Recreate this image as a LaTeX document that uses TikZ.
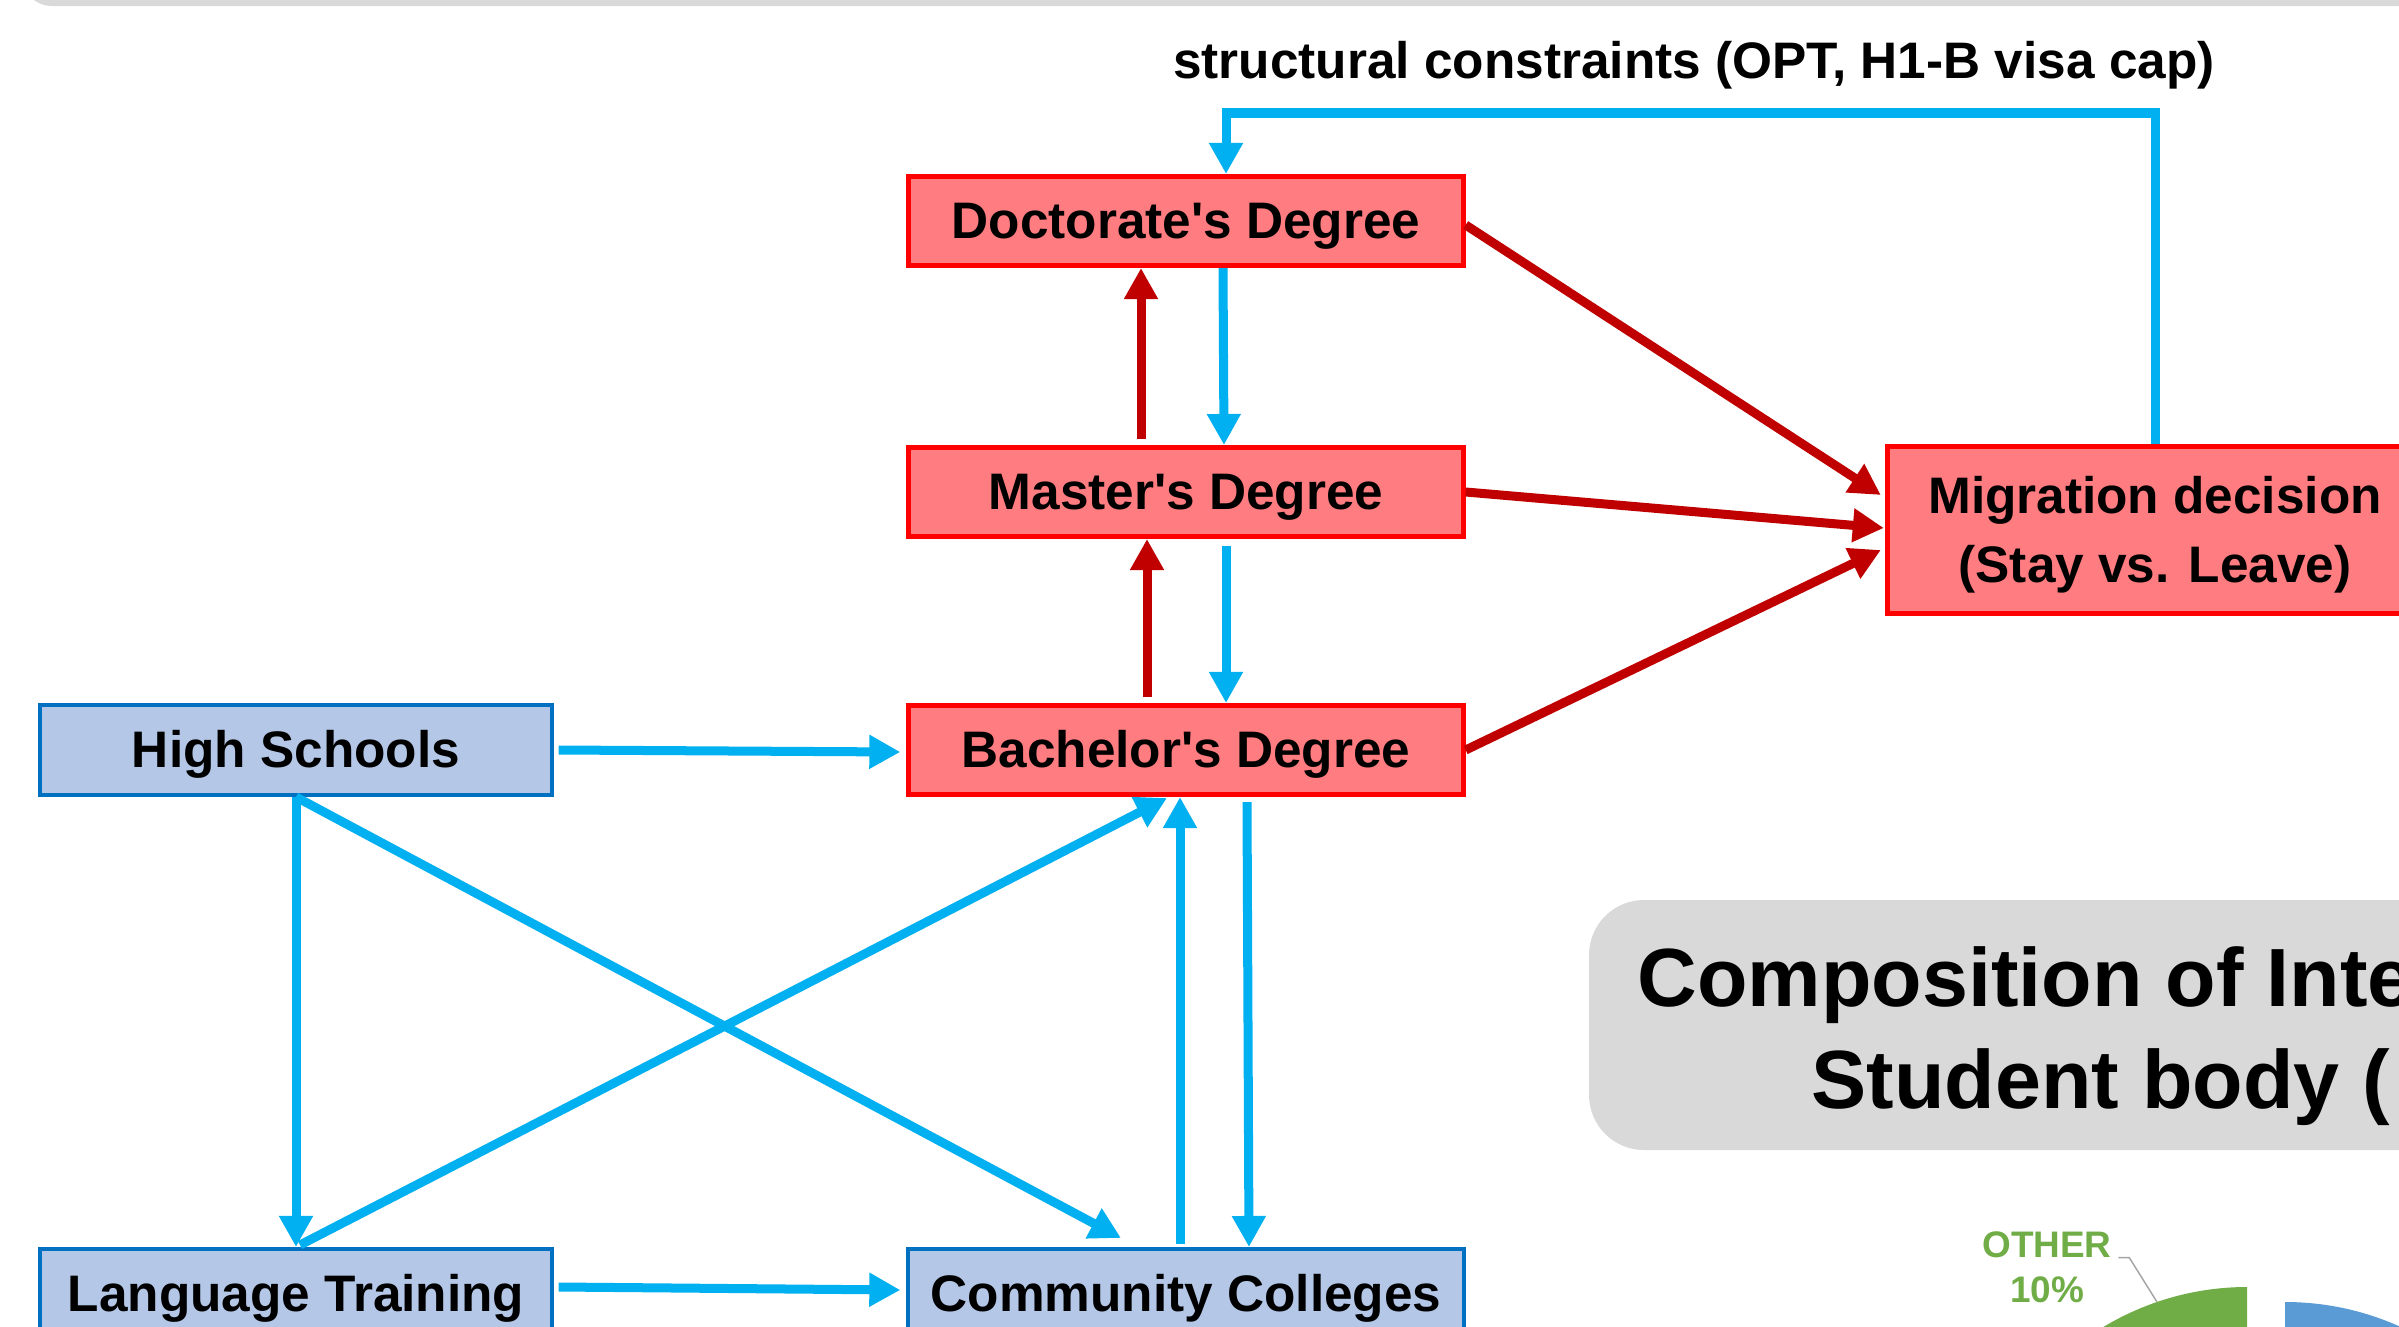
\documentclass[tikz,border=0pt]{standalone}
\usepackage{fontspec}
\setmainfont{Liberation Sans}
\usetikzlibrary{arrows.meta,calc}
\definecolor{boxred}{HTML}{FF7C80}
\definecolor{linered}{HTML}{FF0000}
\definecolor{arrowred}{HTML}{C00000}
\definecolor{boxblue}{HTML}{B4C7E7}
\definecolor{lineblue}{HTML}{0070C0}
\definecolor{arrowblue}{HTML}{00B0F0}
\definecolor{titlegray}{HTML}{D9D9D9}
\definecolor{piegreen}{HTML}{70AD47}
\definecolor{pieblue}{HTML}{5B9BD5}
\definecolor{leadergray}{HTML}{A6A6A6}

\begin{document}
\begin{tikzpicture}[x=0.01cm, y=-0.01cm,
  degree/.style={draw=linered, fill=boxred, line width=0.05cm, minimum width=5.54cm, minimum height=0.89cm, inner sep=0pt, text height=13.3pt, text depth=3.1pt, font=\fontsize{14.6}{19.6}\selectfont\bfseries},
  school/.style={degree, draw=lineblue, fill=boxblue, line width=0.04cm, minimum width=5.11cm, minimum height=0.9cm},
  redarrow/.style={draw=arrowred, line width=0.09cm, -{Triangle[length=0.31cm,width=0.32cm]}},
  bluearrow/.style={redarrow, draw=arrowblue},
  bigtitle/.style={font=\fontsize{23.5}{29}\selectfont\bfseries, anchor=base west, inner sep=0pt}]
\useasboundingbox[fill=white] (0,0) rectangle (2399,1327);

% 顶部灰条
\fill[titlegray, rounded corners=0.3cm] (22,-100) rectangle (2500,6);

% 学位
\node[degree] (doc) at (1186,221) {Doctorate\textquotesingle s Degree};
\node[degree] (mas) at (1186,492) {Master\textquotesingle s Degree};
\node[degree] (bach) at (1186,750) {Bachelor\textquotesingle s Degree};
\node[degree, text height=, text depth=0.5pt, minimum width=5.35cm, minimum height=1.67cm, align=center] (mig) at (2155,530) {Migration decision\\(Stay vs. Leave)};

% 学校
\node[school] (hs) at (296,750) {High Schools};
\node[school] (lt) at (296,1294) {Language Training};
\node[school, minimum width=5.55cm] (cc) at (1186,1294) {Community Colleges};

\node[font=\fontsize{14.6}{17}\selectfont\bfseries, anchor=base, inner sep=0pt] (constraint) at (1694,78) {structural constraints (OPT, H1-B visa cap)};

% 红色箭头
\draw[redarrow] ($(bach.north)+(-39,-6)$) -- ($(mas.south)+(-39,0)$);
\draw[redarrow] ($(mas.north)+(-45,-6)$) -- ($(doc.south)+(-45,0)$);
\draw[redarrow] ($(doc.east)+(0,4)$) -- ($(mig.west)+(-4,-35)$);
\draw[redarrow] (mas.east) -- ($(mig.west)+(-1,-2)$);
\draw[redarrow] (bach.east) -- ($(mig.west)+(-4,20)$);

% 蓝色箭头
\draw[bluearrow] ($(doc.south)+(37,0)$) -- ($(mas.north)+(38,0)$);
\draw[bluearrow] ($(mas.south)+(40,7)$) -- ($(bach.north)+(40,0)$);
\draw[bluearrow] ($(hs.east)+(5,0)$) -- ($(bach.west)+(-6,2)$);
\draw[bluearrow] ($(lt.east)+(5,-7)$) -- ($(cc.west)+(-6,-4)$);
\draw[bluearrow] (hs.south) -- (lt.north);
\draw[bluearrow] (hs.south) -- ($(cc.north)+(-65,-9)$);
\draw[bluearrow] ($(lt.north)+(4,-2)$) -- ($(bach.south)+(-19,1)$);
\draw[bluearrow] ($(cc.north)+(-6,-3)$) -- ($(bach.south)+(-6,0)$);
\draw[bluearrow] ($(bach.south)+(61,5)$) -- ($(cc.north)+(63,0)$);

% 反馈
\coordinate (fbcorner) at (1226,113);
\draw[bluearrow] (mig.north) |- (fbcorner) -- (doc.north -| fbcorner);

% 标题框
\fill[titlegray, rounded corners=0.55cm] (1589,900) rectangle (2700,1150);
\node[bigtitle] (titleA) at (1637,1006) {Composition of Inte};
\node[bigtitle] (titleB) at (1811,1108) {Student body (};

% 饼图
\fill[piegreen] (2247,1565) -- (2247,1287) arc[start angle=270, end angle=234, radius=278] -- cycle;
\fill[pieblue] (2285,1582) -- (2285,1302) arc[start angle=270, end angle=360, radius=280] -- cycle;
\node[font=\fontsize{10.5}{12.8}\selectfont\bfseries, text=piegreen, align=center, inner sep=0pt] (other) at (2047,1267) {OTHER\\10\%};
\coordinate (otherpt) at (2157,1302);
\draw[leadergray, line width=0.015cm] ($(other.north east)+(6,27)$) -- ++(11,0) -- (otherpt);
\end{tikzpicture}
\end{document}
